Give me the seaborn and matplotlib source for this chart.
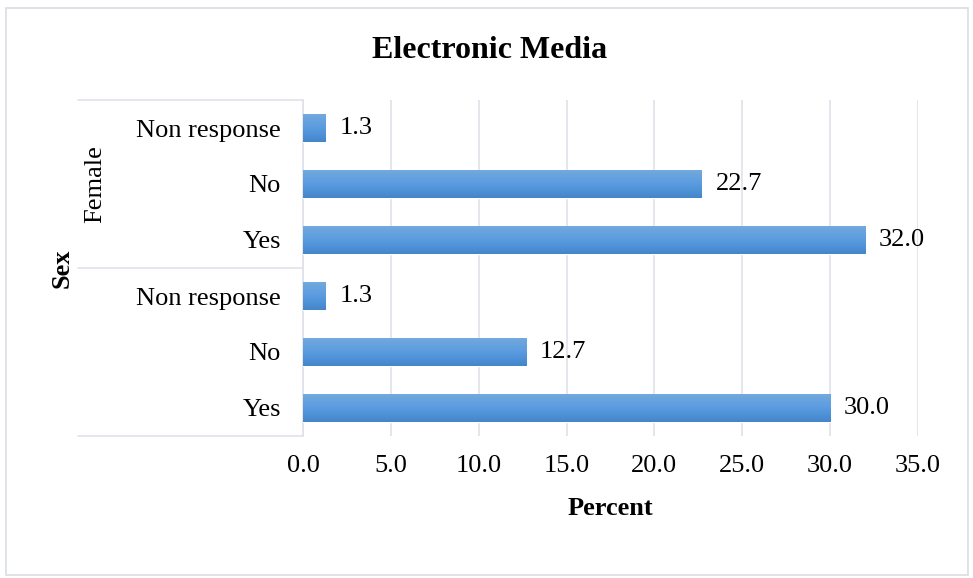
import pandas as pd
import seaborn as sns
import matplotlib.pyplot as plt
import numpy as np
from matplotlib.colors import LinearSegmentedColormap
from matplotlib.patches import Rectangle

# data, top row first (as in the picture)
sex = ['Female', 'Female', 'Female', 'Male', 'Male', 'Male']
response = ['Non response', 'No', 'Yes', 'Non response', 'No', 'Yes']
percent = [1.3, 22.7, 32.0, 1.3, 12.7, 30.0]
group_labels = ['Female', '']
x_ticks = [0, 5, 10, 15, 20, 25, 30, 35]

df = pd.DataFrame({'Sex': sex, 'Response': response, 'Percent': percent})
df['row'] = df['Sex'] + ' ' + df['Response']

sns.set_style('white')
plt.rcParams['font.family'] = ['Liberation Serif', 'DejaVu Serif']
plt.rcParams.update({'text.color': 'black', 'axes.labelcolor': 'black',
                     'xtick.color': 'black', 'ytick.color': 'black'})
fs = 19

fig = plt.figure(figsize=(9.73, 5.78), dpi=100)
ax = fig.add_axes([303/973, 1 - 436/578, 615/973, 336/578])

sns.barplot(data=df, x='Percent', y='row', orient='h', color='#5b9bd5',
            width=0.5, ax=ax, zorder=3)

# gradient fill on each bar, clipped to the bar itself
cmap = LinearSegmentedColormap.from_list('bar', ['#72a9de', '#5a9be0', '#4486cb'])
grad = np.linspace(0, 1, 64).reshape(-1, 1)
for bar in ax.patches:
    x0, y0 = bar.get_x(), bar.get_y()
    w, h = bar.get_width(), bar.get_height()
    im = ax.imshow(grad, cmap=cmap, aspect='auto', origin='upper',
                   extent=(x0, x0 + w, y0 + h, y0), zorder=4)
    im.set_clip_path(bar)

ax.set_xlim(0, 35)
ax.set_ylim(len(df) - 0.5, -0.5)
ax.set_xticks(x_ticks)
ax.set_xticklabels([f'{t:.1f}' for t in x_ticks], fontsize=fs)
ax.set_yticks(range(len(df)))
ax.set_yticklabels(df['Response'], fontsize=fs)
ax.tick_params(axis='x', pad=14, length=0)
ax.tick_params(axis='y', pad=16, length=0)
ax.grid(axis='x', color='#dfe2e7', linewidth=1.2, zorder=0)
for s in ['top', 'right', 'bottom']:
    ax.spines[s].set_visible(False)
ax.spines['left'].set_color('#dfe2e7')
ax.spines['left'].set_linewidth(1.2)

for c in ax.containers:
    ax.bar_label(c, fmt='%.1f', padding=10, fontsize=fs, zorder=5)

ax.set_xlabel('Percent', fontsize=fs, fontweight='bold', labelpad=14)
ax.set_ylabel('')

# multi-level category axis: separators and group names
trans = ax.get_yaxis_transform()
left_edge = (78 - 303) / 615
for yb in [-0.5, 2.5, 5.5]:
    ax.plot([left_edge, 0], [yb, yb], color='#dfe2e7', lw=1.2,
            transform=trans, clip_on=False)
for i, g in enumerate(group_labels):
    ax.text((95 - 303) / 615, 1 + 3 * i, g, rotation=90, ha='center',
            va='center', fontsize=fs, transform=trans)
ax.text((62 - 303) / 615, 2.5, 'Sex', rotation=90, ha='center', va='center',
        fontsize=fs, fontweight='bold', transform=trans)

fig.text(490/973, 1 - 50/578, 'Electronic Media', ha='center', va='center',
         fontsize=23, fontweight='bold')

fig.patches.append(Rectangle((6/973, 1 - 575/578), 962/973, 567/578,
                             transform=fig.transFigure, fill=False,
                             edgecolor='#d9dde2', linewidth=1.2))

plt.savefig('out.png', dpi=100)
